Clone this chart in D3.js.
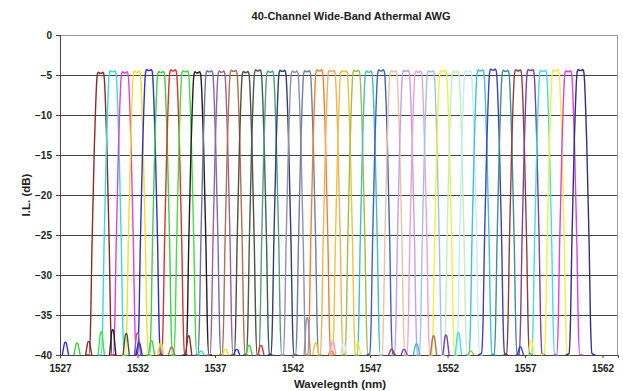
<!DOCTYPE html>
<html>
<head>
<meta charset="utf-8">
<script src="https://cdn.jsdelivr.net/npm/d3@7/dist/d3.min.js"></script>
<style>
  body { margin: 0; background: #fff; }
  svg text { font-family: "Liberation Sans", Arial, sans-serif; font-weight: bold; fill: #222; }
</style>
</head>
<body>
<div id="chart"></div>
<script>
// channel centres (nm), 100 GHz grid
const channelCenters = [
  1529.62, 1530.40, 1531.18, 1531.96, 1532.74, 1533.52, 1534.30, 1535.08, 1535.86, 1536.64,
  1537.42, 1538.20, 1538.98, 1539.77, 1540.56, 1541.35, 1542.14, 1542.94, 1543.73, 1544.53,
  1545.32, 1546.12, 1546.92, 1547.72, 1548.51, 1549.32, 1550.12, 1550.92, 1551.72, 1552.52,
  1553.33, 1554.13, 1554.94, 1555.75, 1556.55, 1557.36, 1558.17, 1558.98, 1559.79, 1560.58
];

// insertion loss at the top of each passband (dB)
const peakLoss = [
  -4.65, -4.45, -4.6, -4.5, -4.3, -4.55, -4.35, -4.45, -4.6, -4.45,
  -4.5, -4.4, -4.55, -4.35, -4.5, -4.4, -4.5, -4.45, -4.35, -4.4,
  -4.45, -4.4, -4.5, -4.35, -4.45, -4.4, -4.5, -4.45, -4.4, -4.5,
  -4.45, -4.35, -4.25, -4.4, -4.35, -4.3, -4.4, -4.35, -4.45, -4.3
];

const channelColors = [
  '#8b2a2a', '#33dddd', '#e040e0', '#f0e020', '#3030d0', '#40d040', '#e03030', '#40e040', '#202020', '#7070b0',
  '#a0609a', '#b07050', '#505040', '#406050', '#50a080', '#304070', '#9090b0', '#7080a0', '#f08030', '#f0b060',
  '#f0c040', '#a0c040', '#40c0c0', '#4060d0', '#f0c0a0', '#c0a0f0', '#f0a0d0', '#a0c0f0', '#f0f040', '#c0f0c0',
  '#c0f0f0', '#40c0e0', '#4040c0', '#409090', '#904040', '#8040a0', '#40e0e0', '#f0f040', '#e040e0', '#303080'
];

// passband shape: offset from centre (nm) and dB below the peak
const shapeOffset = [-0.95, -0.74, -0.64, -0.56, -0.48, -0.40, -0.33, -0.28, -0.24, -0.20, -0.14, -0.05, 0,
  0.05, 0.14, 0.20, 0.24, 0.28, 0.33, 0.40, 0.48, 0.56, 0.64, 0.74, 0.95];
const shapeDb = [-40, -35.5, -31, -22, -15.5, -9, -4.8, -2.2, -0.8, -0.2, 0, -0.15, -0.12,
  -0.15, 0, -0.2, -0.8, -2.2, -4.8, -9, -15.5, -22, -31, -35.5, -40];

// small side lobes sitting on the floor: wavelength, top (dB), channel whose colour they carry
const lobeWavelength = [1527.35, 1528.1, 1528.85, 1529.66, 1530.4, 1531.27, 1532.0, 1532.1, 1532.9, 1533.5,
  1534.2, 1535.3, 1536.1, 1537.67, 1538.4, 1539.2, 1539.96, 1542.95, 1543.5, 1544.5,
  1544.6, 1545.3, 1546.2, 1548.4, 1549.2, 1550.0, 1551.1, 1551.9, 1552.7, 1553.5, 1556.7, 1557.4];
const lobePeak = [-38.4, -38.5, -38.3, -37.1, -36.8, -37.3, -37.2, -38.5, -38.2, -38.5,
  -39, -37.6, -39.5, -39.3, -39.3, -38.8, -38.8, -35.3, -38.5, -39.5,
  -38.3, -38.5, -38.5, -39.3, -39.3, -38.6, -37.6, -37.5, -37.2, -39.5, -39, -38.3];
const lobeChannel = [4, 5, 0, 7, 8, 12, 10, 4, 5, 3,
  11, 0, 1, 3, 4, 5, 6, 16, 20, 18,
  26, 30, 28, 34, 35, 22, 11, 35, 36, 21, 32, 37];
const lobeOffset = [-0.2, -0.12, -0.06, 0, 0.06, 0.12, 0.2];
const lobeShape = [0, 0.55, 0.92, 1, 0.92, 0.55, 0];

const xTicks = [1527, 1532, 1537, 1542, 1547, 1552, 1557, 1562];
const yTicks = [0, -5, -10, -15, -20, -25, -30, -35, -40];

const margin = { top: 35, right: 5, bottom: 36, left: 60 };
const width = 623 - margin.left - margin.right;
const height = 391 - margin.top - margin.bottom;

const svg = d3.select('#chart')
  .append('svg')
  .attr('width', 623)
  .attr('height', 391);

const g = svg.append('g')
  .attr('transform', 'translate(' + margin.left + ',' + margin.top + ')');

const x = d3.scaleLinear().domain([1527, 1563]).range([0, width]);
const y = d3.scaleLinear().domain([-40, 0]).range([height, 0]).clamp(true);

// grid
g.append('g')
  .selectAll('line')
  .data(yTicks)
  .enter()
  .append('line')
  .attr('x1', 0)
  .attr('x2', width)
  .attr('y1', d => y(d) + 0.5)
  .attr('y2', d => y(d) + 0.5)
  .attr('stroke', '#444')
  .attr('stroke-width', 1);

g.append('rect')
  .attr('x', 0.5)
  .attr('y', 0.5)
  .attr('width', width - 1)
  .attr('height', height)
  .attr('fill', 'none')
  .attr('stroke', '#999');

// y axis
const yAxis = g.append('g')
  .call(d3.axisLeft(y).tickValues(yTicks).tickSize(4).tickPadding(4).tickFormat(d3.format('d')));
yAxis.select('.domain').attr('stroke', '#444');
yAxis.selectAll('.tick line').attr('stroke', '#444');
yAxis.selectAll('text').style('font-size', '10px').attr('fill', '#222');

// x axis
const xAxis = g.append('g')
  .attr('transform', 'translate(0,' + height + ')')
  .call(d3.axisBottom(x).tickValues(xTicks).tickSize(3).tickPadding(7).tickFormat(d3.format('d')));
xAxis.select('.domain').attr('stroke', '#444');
xAxis.selectAll('.tick line').attr('stroke', '#444');
xAxis.selectAll('text').style('font-size', '10px').attr('fill', '#222');

// channels
const line = d3.line()
  .x(d => x(d[0]))
  .y(d => y(d[1]))
  .curve(d3.curveMonotoneX);

const curves = g.append('g');

channelCenters.forEach((c, i) => {
  const pts = shapeOffset.map((o, k) => [c + o, Math.max(-40, peakLoss[i] + shapeDb[k])]);
  curves.append('path')
    .attr('d', line(pts))
    .attr('fill', 'none')
    .attr('stroke', channelColors[i])
    .attr('stroke-width', 1.4);
});

lobeWavelength.forEach((w, i) => {
  const pts = lobeOffset.map((o, k) => [w + o, -40 + lobeShape[k] * (lobePeak[i] + 40)]);
  curves.append('path')
    .attr('d', line(pts))
    .attr('fill', 'none')
    .attr('stroke', channelColors[lobeChannel[i]])
    .attr('stroke-width', 1.4);
});

// titles
svg.append('text')
  .attr('x', 351)
  .attr('y', 20)
  .attr('text-anchor', 'middle')
  .style('font-size', '11px')
  .text('40-Channel Wide-Band Athermal AWG');

svg.append('text')
  .attr('x', 340)
  .attr('y', 388)
  .attr('text-anchor', 'middle')
  .style('font-size', '11.5px')
  .text('Wavelegnth (nm)');

svg.append('text')
  .attr('transform', 'translate(30,' + (margin.top + height / 2) + ') rotate(-90)')
  .attr('text-anchor', 'middle')
  .style('font-size', '11.5px')
  .text('I.L. (dB)');
</script>
</body>
</html>
